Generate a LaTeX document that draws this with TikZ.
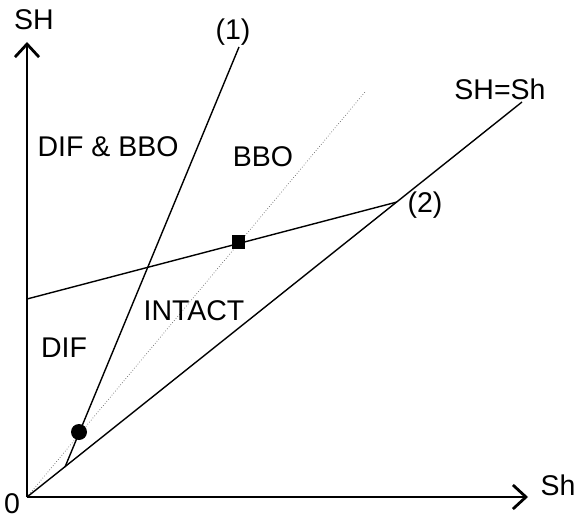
\documentclass[tikz,border=0pt]{standalone}
\usepackage{fontspec}
\setmainfont{Liberation Sans}
\usetikzlibrary{arrows.meta}
\begin{document}
\begin{tikzpicture}[x=1pt,y=-1pt,
  axis/.style={line width=2.8pt,-{Straight Barb[length=13pt,width=24pt,line width=2.8pt]}},
  bound/.style={line width=1.4pt},
  guide/.style={line width=0.7pt,dotted,black!60},
  lbl/.style={inner sep=0pt,anchor=base,font=\fontsize{28.5}{34}\selectfont}]
\useasboundingbox (0,0) rectangle (577,518);
% coordinates
\coordinate (O) at (27,497);
\coordinate (Ytop) at (27,42);
\coordinate (Xend) at (528,497);
\coordinate (Eq) at (522,102);
\coordinate (A) at (65,467);
\coordinate (Atop) at (239,47);
\coordinate (L) at (27,299);
\coordinate (T) at (397,202);
\coordinate (G) at (365,92);
% lines
\draw[guide] (O) -- (G);
\draw[bound] (O) -- (Eq);
\draw[bound] (A) -- (Atop);
\draw[bound] (L) -- (T);
\draw[axis] (O) -- (Ytop);
\draw[axis] (O) -- (Xend);
% markers
\node[fill=black,minimum size=13pt,inner sep=0pt] (sq) at (238,242) {};
\node[circle,fill=black,minimum size=16pt,inner sep=0pt] (dot) at (79,432) {};
% labels
\node[lbl] (lSH) at (34,30) {SH};
\node[lbl] (lSh) at (558,495) {Sh};
\node[lbl] (l0) at (12,513) {0};
\node[lbl] (l1) at (233,40) {(1)};
\node[lbl] (l2) at (425,213) {(2)};
\node[lbl] (lEq) at (500,100) {SH=Sh};
\node[lbl] (lDB) at (108,157) {DIF \& BBO};
\node[lbl] (lB) at (263,167) {BBO};
\node[lbl] (lI) at (194,320) {INTACT};
\node[lbl] (lD) at (64,357) {DIF};
\end{tikzpicture}
\end{document}
